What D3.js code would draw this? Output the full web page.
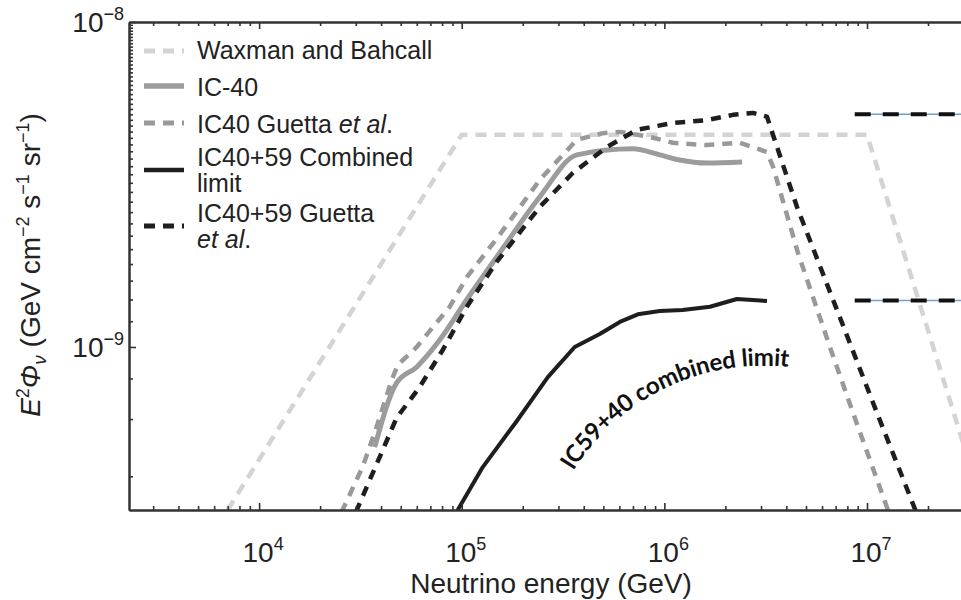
<!DOCTYPE html>
<html>
<head>
<meta charset="utf-8">
<script src="https://cdn.jsdelivr.net/npm/d3@7"></script>
<style>
  body { margin: 0; background: #fff; }
  svg { display: block; }
</style>
</head>
<body>
<svg id="chart" width="961" height="600"></svg>
<script>
// Neutrino energy (GeV) and E^2 Phi (GeV cm^-2 s^-1 sr^-1) for each curve
const waxmanE = [7.0e3, 1e5, 1e7, 3e7];
const waxmanF = [3.15e-10, 4.5e-9, 4.5e-9, 5.0e-10];

const ic40E = [3.72e4, 4.77e4, 6.0e4, 7.78e4, 1.06e5, 1.54e5, 2.43e5, 3.70e5, 6.98e5, 9.5e5, 1.19e6, 1.62e6, 2.42e6];
const ic40F = [4.92e-10, 7.75e-10, 8.68e-10, 1.05e-9, 1.40e-9, 1.95e-9, 2.90e-9, 3.90e-9, 4.07e-9, 3.90e-9, 3.76e-9, 3.68e-9, 3.71e-9];

const ic40GuettaE = [2.55e4, 3.24e4, 3.80e4, 4.51e4, 4.83e4, 6.0e4, 7.53e4, 8.73e4, 1.06e5, 1.51e5, 2.43e5, 3.70e5, 4.97e5, 6.03e5, 8.48e5, 1.10e6, 1.62e6, 2.36e6, 3.21e6, 3.44e6, 4.56e6, 6.56e6, 8.53e6, 1.28e7];
const ic40GuettaF = [3.1e-10, 4.27e-10, 5.67e-10, 7.91e-10, 8.8e-10, 1.0e-9, 1.19e-9, 1.33e-9, 1.64e-9, 2.18e-9, 3.27e-9, 4.34e-9, 4.55e-9, 4.59e-9, 4.43e-9, 4.25e-9, 4.18e-9, 4.25e-9, 3.98e-9, 3.58e-9, 1.95e-9, 1.0e-9, 6.27e-10, 3.1e-10];

const combinedE = [9.44e4, 1.27e5, 1.87e5, 2.66e5, 3.61e5, 4.80e5, 6.03e5, 7.4e5, 9.5e5, 1.23e6, 1.68e6, 2.28e6, 3.21e6];
const combinedF = [3.11e-10, 4.27e-10, 5.92e-10, 8.08e-10, 1.0e-9, 1.096e-9, 1.194e-9, 1.26e-9, 1.29e-9, 1.30e-9, 1.33e-9, 1.405e-9, 1.385e-9];

const combinedGuettaE = [3.0e4, 3.94e4, 4.77e4, 6.2e4, 8.06e4, 1.06e5, 1.49e5, 2.43e5, 3.53e5, 5.2e5, 7.31e5, 1.10e6, 1.62e6, 2.18e6, 2.74e6, 3.21e6, 4.51e6, 7.36e6, 1.12e7, 1.75e7];
const combinedGuettaF = [3.1e-10, 4.59e-10, 6.05e-10, 7.53e-10, 9.79e-10, 1.33e-9, 1.83e-9, 2.70e-9, 3.43e-9, 4.12e-9, 4.66e-9, 4.89e-9, 4.99e-9, 5.18e-9, 5.25e-9, 5.11e-9, 2.70e-9, 1.23e-9, 6.27e-10, 3.1e-10];

// Reference levels marked at the right edge
const levelMarks = [5.2e-9, 1.39e-9];
const levelMarkStart = 8.7e6;
const levelMarkEnd = 3e7;

// Axis extents and labelled ticks
const xDomain = [2.28e3, 2.91e7];
const yDomain = [3.15e-10, 1e-8];
const xMajorTicks = [1e4, 1e5, 1e6, 1e7];
const xTickExponents = ["4", "5", "6", "7"];
const yMajorTicks = [1e-9, 1e-8];
const yTickExponents = ["\u22129", "\u22128"];

const legendLabels = [
  ["Waxman and Bahcall"],
  ["IC-40"],
  ["IC40 Guetta ", "et al", "."],
  ["IC40+59 Combined", "limit"],
  ["IC40+59 Guetta", "et al", "."]
];

const curveLabel = "IC59+40 combined limit";
const curveLabelFrom = [3.55e5, 4.15e-10];
const curveLabelTo = [4.6e6, 8.6e-10];

const FONT = "'Liberation Sans', Arial, Helvetica, sans-serif";

const svg = d3.select("#chart");
const plot = { left: 129, top: 22, right: 961, bottom: 510 };

const x = d3.scaleLog().domain(xDomain).range([plot.left, plot.right]);
const y = d3.scaleLog().domain(yDomain).range([plot.bottom, plot.top]);

const zip = (a, b) => a.map((v, i) => [v, b[i]]);

const styles = {
  waxman: { color: "#d3d3d3", width: 4.5, dash: "11,8" },
  ic40:   { color: "#9c9c9c", width: 5,   dash: null },
  ic40g:  { color: "#999999", width: 4.5, dash: "10,8" },
  comb:   { color: "#1e1e1e", width: 4,   dash: null },
  combg:  { color: "#1e1e1e", width: 4.5, dash: "10,8" }
};

const series = [
  { key: "waxman", data: zip(waxmanE, waxmanF), curve: d3.curveLinear },
  { key: "ic40g",  data: zip(ic40GuettaE, ic40GuettaF), curve: d3.curveLinear },
  { key: "ic40",   data: zip(ic40E, ic40F), curve: d3.curveMonotoneX },
  { key: "combg",  data: zip(combinedGuettaE, combinedGuettaF), curve: d3.curveLinear },
  { key: "comb",   data: zip(combinedE, combinedF), curve: d3.curveLinear }
];

const defs = svg.append("defs");
defs.append("clipPath").attr("id", "plotClip")
  .append("rect")
  .attr("x", plot.left).attr("y", plot.top)
  .attr("width", plot.right - plot.left).attr("height", plot.bottom - plot.top);

// Curves
const curves = svg.append("g").attr("clip-path", "url(#plotClip)");
series.forEach(s => {
  const st = styles[s.key];
  const line = d3.line().x(d => x(d[0])).y(d => y(d[1])).curve(s.curve);
  curves.append("path")
    .datum(s.data)
    .attr("d", line)
    .attr("fill", "none")
    .attr("stroke", st.color)
    .attr("stroke-width", st.width)
    .attr("stroke-dasharray", st.dash)
    .attr("stroke-linejoin", "round");
});

// Right-edge level marks: thin blue line with black dashes over it
levelMarks.forEach(v => {
  const pts = [[levelMarkStart, v], [levelMarkEnd, v]];
  const line = d3.line().x(d => x(d[0])).y(d => y(d[1]));
  curves.append("path").datum(pts).attr("d", line)
    .attr("fill", "none").attr("stroke", "#6f9fd3").attr("stroke-width", 1.5);
  curves.append("path").datum(pts).attr("d", line)
    .attr("fill", "none").attr("stroke", "#111").attr("stroke-width", 4)
    .attr("stroke-dasharray", "16,12");
});

// Axes with inward ticks
const axisColor = "#333";
function styleAxis(g) {
  g.select(".domain").attr("stroke", axisColor).attr("stroke-width", 2);
  g.selectAll(".tick line").attr("stroke", axisColor).attr("stroke-width", 1.6);
  g.selectAll(".tick text").remove();
}
const xMinor = x.ticks(40).filter(v => !xMajorTicks.includes(v));
const yMinor = y.ticks(40).filter(v => !yMajorTicks.some(m => Math.abs(m - v) / m < 1e-6));

svg.append("g").attr("transform", `translate(0,${plot.bottom})`)
  .call(d3.axisBottom(x).tickValues(xMajorTicks).tickSizeInner(-7).tickSizeOuter(0)).call(styleAxis);
svg.append("g").attr("transform", `translate(0,${plot.bottom})`)
  .call(d3.axisBottom(x).tickValues(xMinor).tickSizeInner(-4).tickSizeOuter(0)).call(styleAxis);
svg.append("g").attr("transform", `translate(0,${plot.top})`)
  .call(d3.axisTop(x).tickValues(xMajorTicks).tickSizeInner(-7).tickSizeOuter(0)).call(styleAxis);
svg.append("g").attr("transform", `translate(0,${plot.top})`)
  .call(d3.axisTop(x).tickValues(xMinor).tickSizeInner(-4).tickSizeOuter(0)).call(styleAxis);
svg.append("g").attr("transform", `translate(${plot.left},0)`)
  .call(d3.axisLeft(y).tickValues(yMajorTicks).tickSizeInner(-7).tickSizeOuter(0)).call(styleAxis);
svg.append("g").attr("transform", `translate(${plot.left},0)`)
  .call(d3.axisLeft(y).tickValues(yMinor).tickSizeInner(-4).tickSizeOuter(0)).call(styleAxis);

// Tick labels as powers of ten
const labelSize = 28, supSize = 18;
xMajorTicks.forEach((v, i) => {
  const t = svg.append("text")
    .attr("x", x(v) + 4).attr("y", 562)
    .attr("text-anchor", "middle")
    .attr("font-family", FONT).attr("font-size", labelSize).attr("fill", "#222");
  t.append("tspan").text("10");
  t.append("tspan").attr("dy", -12).attr("font-size", supSize).text(xTickExponents[i]);
});
yMajorTicks.forEach((v, i) => {
  const t = svg.append("text")
    .attr("x", 124).attr("y", y(v) + 10)
    .attr("text-anchor", "end")
    .attr("font-family", FONT).attr("font-size", labelSize).attr("fill", "#222");
  t.append("tspan").text("10");
  t.append("tspan").attr("dy", -12).attr("font-size", supSize).text(yTickExponents[i]);
});

// Axis titles
svg.append("text")
  .attr("x", 551).attr("y", 593)
  .attr("text-anchor", "middle")
  .attr("font-family", FONT).attr("font-size", 28).attr("fill", "#222")
  .text("Neutrino energy (GeV)");

const yt = svg.append("text")
  .attr("transform", "translate(40,265) rotate(-90)")
  .attr("text-anchor", "middle")
  .attr("font-family", FONT).attr("font-size", 28).attr("fill", "#222");
yt.append("tspan").attr("font-style", "italic").text("E");
yt.append("tspan").attr("dy", -11).attr("font-size", 18).text("2");
yt.append("tspan").attr("dy", 11).attr("font-style", "italic").text("\u03A6");
yt.append("tspan").attr("dy", 6).attr("font-size", 19).attr("font-style", "italic").text("\u03BD");
yt.append("tspan").attr("dy", -6).text(" (GeV cm");
yt.append("tspan").attr("dy", -11).attr("font-size", 18).text("\u22122");
yt.append("tspan").attr("dy", 11).text(" s");
yt.append("tspan").attr("dy", -11).attr("font-size", 18).text("\u22121");
yt.append("tspan").attr("dy", 11).text(" sr");
yt.append("tspan").attr("dy", -11).attr("font-size", 18).text("\u22121");
yt.append("tspan").attr("dy", 11).text(")");

// Legend
const legend = svg.append("g").attr("font-family", FONT).attr("font-size", 25).attr("fill", "#222");
const legendKeys = ["waxman", "ic40", "ic40g", "comb", "combg"];
const swatchY = [51, 86, 123, 170, 226];
const textY = [59, 96, 133, 166, 222];
const lineGap = 26;
legendKeys.forEach((k, i) => {
  const st = styles[k];
  legend.append("line")
    .attr("x1", 144).attr("x2", 184)
    .attr("y1", swatchY[i]).attr("y2", swatchY[i])
    .attr("stroke", st.color).attr("stroke-width", st.width + 0.5)
    .attr("stroke-dasharray", st.dash ? "11,8" : null);
  const lab = legendLabels[i];
  if (k === "ic40g") {
    const t = legend.append("text").attr("x", 197).attr("y", textY[i]);
    t.append("tspan").text(lab[0]);
    t.append("tspan").attr("font-style", "italic").text(lab[1]);
    t.append("tspan").text(lab[2]);
  } else if (k === "combg") {
    legend.append("text").attr("x", 197).attr("y", textY[i]).text(lab[0]);
    const t2 = legend.append("text").attr("x", 197).attr("y", textY[i] + lineGap);
    t2.append("tspan").attr("font-style", "italic").text(lab[1]);
    t2.append("tspan").text(lab[2]);
  } else {
    lab.forEach((s, j) => {
      legend.append("text").attr("x", 197).attr("y", textY[i] + j * lineGap).text(s);
    });
  }
});

// Curved annotation along the combined limit
const p0 = [x(curveLabelFrom[0]), y(curveLabelFrom[1])];
const p1 = [x(curveLabelTo[0]), y(curveLabelTo[1])];
defs.append("path").attr("id", "labelArc")
  .attr("d", `M${p0[0]},${p0[1]} A225,225 0 0,1 ${p1[0]},${p1[1]}`);
svg.append("text")
  .attr("font-family", "Lato, 'Open Sans', sans-serif")
  .attr("font-weight", 700).attr("font-size", 24).attr("fill", "#111")
  .append("textPath")
  .attr("href", "#labelArc")
  .attr("textLength", 252)
  .attr("lengthAdjust", "spacing")
  .text(curveLabel);
</script>
</body>
</html>
